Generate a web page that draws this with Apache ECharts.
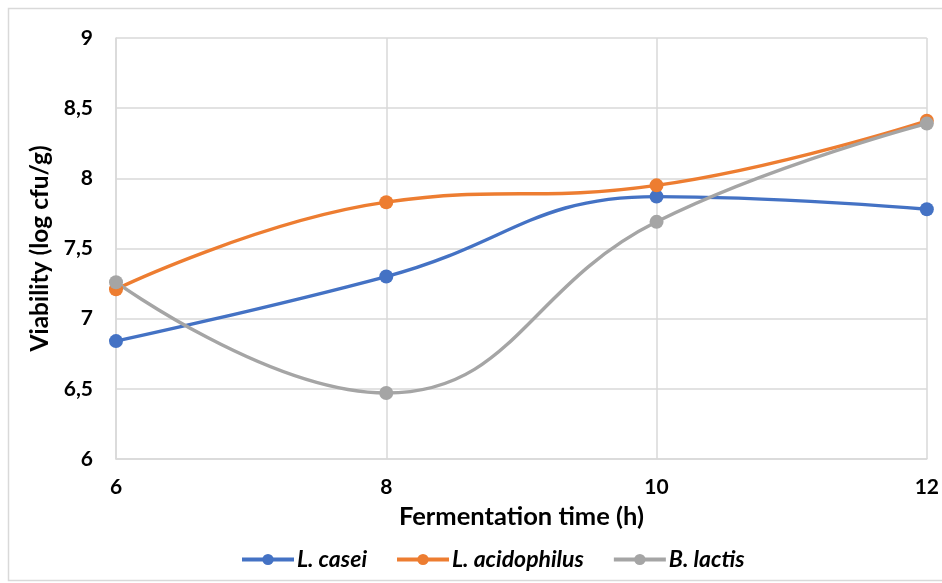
<!DOCTYPE html>
<html>
<head>
<meta charset="utf-8">
<script src="https://cdn.jsdelivr.net/npm/echarts@6/dist/echarts.min.js"></script>
<style>
  html, body { margin: 0; padding: 0; background: #fff; }
  #chart { width: 942px; height: 583px; }
</style>
</head>
<body>
<div id="chart"></div>
<script>
// Fermentation time (h)
const hours = ['6', '8', '10', '12'];
// Viability (log cfu/g) per strain
const lCasei = [6.84, 7.30, 7.87, 7.78];
const lAcidophilus = [7.21, 7.83, 7.95, 8.41];
const bLactis = [7.26, 6.47, 7.69, 8.39];
// Value axis ticks
const yTicks = [6, 6.5, 7, 7.5, 8, 8.5, 9];

const FONT = 'Lato, "Open Sans", sans-serif';
const chart = echarts.init(document.getElementById('chart'), null, { renderer: 'canvas' });

function line(name, data, color) {
  return {
    name: name,
    type: 'line',
    data: data,
    smooth: 0.45,
    symbol: 'circle',
    symbolSize: 14,
    lineStyle: { color: color, width: 3.4 },
    itemStyle: { color: color },
    z: 3
  };
}

chart.setOption({
  animation: false,
  backgroundColor: '#ffffff',
  graphic: [{
    type: 'rect',
    shape: { x: 8.5, y: 8.5, width: 960, height: 572 },
    style: { fill: 'none', stroke: '#d9d9d9', lineWidth: 1.5 },
    z: -10
  }],
  grid: { left: 116, right: 15, top: 38, bottom: 124, containLabel: false },
  legend: {
    left: 235,
    top: 543,
    itemWidth: 52,
    itemHeight: 14,
    itemGap: 28,
    lineStyle: { width: 4 },
    textStyle: { fontFamily: FONT, fontSize: 23, fontWeight: 'bold', fontStyle: 'italic', color: '#000', padding: [0, 0, 0, -2] },
    data: ['L. casei', 'L. acidophilus', 'B. lactis']
  },
  xAxis: {
    type: 'category',
    data: hours,
    boundaryGap: false,
    name: 'Fermentation time (h)',
    nameLocation: 'middle',
    nameGap: 45,
    nameTextStyle: { fontFamily: FONT, fontSize: 25.5, fontWeight: 'bold', color: '#000' },
    axisLine: { lineStyle: { color: '#d9d9d9', width: 1.5 } },
    axisTick: { show: false },
    axisLabel: { fontFamily: FONT, fontSize: 21, fontWeight: 'bold', color: '#000', margin: 18 },
    splitLine: { show: true, lineStyle: { color: '#d9d9d9', width: 1.5 } }
  },
  yAxis: {
    type: 'value',
    min: yTicks[0],
    max: yTicks[yTicks.length - 1],
    interval: 0.5,
    name: 'Viability (log cfu/g)',
    nameLocation: 'middle',
    nameGap: 62,
    nameTextStyle: { fontFamily: FONT, fontSize: 24.5, fontWeight: 'bold', color: '#000' },
    axisLine: { show: true, lineStyle: { color: '#d9d9d9', width: 1.5 } },
    axisTick: { show: false },
    axisLabel: {
      fontFamily: FONT, fontSize: 21, fontWeight: 'bold', color: '#000', margin: 23,
      formatter: v => String(v).replace('.', ',')
    },
    splitLine: { show: true, lineStyle: { color: '#d9d9d9', width: 1.5 } }
  },
  series: [
    line('L. casei', lCasei, '#4472C4'),
    line('L. acidophilus', lAcidophilus, '#ED7D31'),
    line('B. lactis', bLactis, '#A5A5A5')
  ]
});
</script>
</body>
</html>
